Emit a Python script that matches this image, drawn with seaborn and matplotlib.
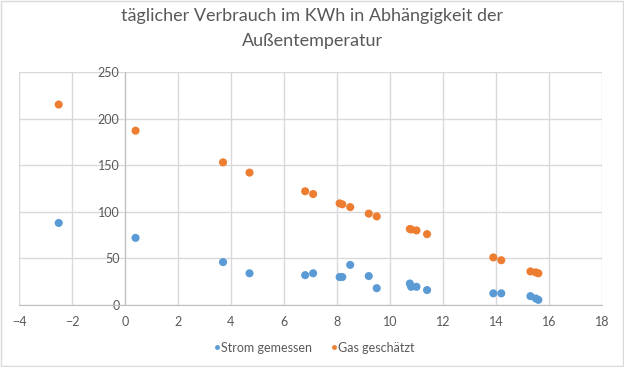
import pandas as pd
import seaborn as sns
import matplotlib.pyplot as plt
from matplotlib.patches import Rectangle

# Aussentemperatur (°C) und täglicher Verbrauch (kWh)
temperatur = [-2.5, 0.4, 3.7, 4.7, 6.8, 7.1, 8.1, 8.2, 8.5, 9.2, 9.5,
              10.75, 10.8, 11.0, 11.4, 13.9, 14.2, 15.3, 15.5, 15.6]
strom = [88, 72, 46, 34, 32, 34, 30, 30, 43, 31, 18,
         23, 19.5, 19.5, 16, 12.5, 12.5, 9.5, 7, 5.5]
gas = [215, 187, 153, 142, 122, 119, 109, 108, 105, 98, 95,
       81.5, 81, 80, 76, 51, 48, 36, 35, 34]

x_ticks = list(range(-4, 19, 2))
y_ticks = [0, 50, 100, 150, 200, 250]

df = pd.concat([
    pd.DataFrame({"temp": temperatur, "kwh": strom, "serie": "Strom gemessen"}),
    pd.DataFrame({"temp": temperatur, "kwh": gas, "serie": "Gas geschätzt"}),
])

colors = {"Strom gemessen": "#5B9BD5", "Gas geschätzt": "#ED7D31"}
text_col = "#595959"
grid_col = "#D9D9D9"

sns.set_style("white")
plt.rcParams["font.family"] = ["Lato", "DejaVu Sans"]

fig = plt.figure(figsize=(6.24, 3.67), dpi=100)
ax = fig.add_axes([0.0304, 0.169, 0.9343, 0.635])

sns.scatterplot(
    data=df, x="temp", y="kwh", hue="serie", palette=colors,
    s=34, edgecolor="none", ax=ax, legend=True, zorder=3
)

ax.set_xlim(-4, 18)
ax.set_ylim(0, 250)
ax.set_xticks(x_ticks)
ax.set_yticks(y_ticks)
ax.grid(True, color=grid_col, linewidth=1)
ax.set_axisbelow(True)
ax.set_xlabel("")
ax.set_ylabel("")

# y-Achse schneidet bei x=0 (wie in Excel)
for s in ["top", "right"]:
    ax.spines[s].set_visible(False)
ax.spines["left"].set_position(("data", 0))
ax.spines["left"].set_color("#BFBFBF")
ax.spines["bottom"].set_color("#BFBFBF")
ax.tick_params(axis="both", length=0, labelsize=9, colors=text_col)
ax.tick_params(axis="y", pad=4)
ax.tick_params(axis="x", pad=8)

ax.get_legend().remove()
handles, labels = ax.get_legend_handles_labels()
fig.legend(handles, labels, loc="center", bbox_to_anchor=(0.5, 0.053),
           ncol=2, frameon=False, fontsize=9, handletextpad=-0.3,
           handlelength=1.2, columnspacing=1.2, markerscale=0.6,
           labelcolor=text_col)

fig.suptitle("täglicher Verbrauch im KWh in Abhängigkeit der\nAußentemperatur",
             y=0.978, fontsize=13, color=text_col, linespacing=1.7)

fig.patches.append(Rectangle((0.0015, 0.0025), 0.997, 0.995, transform=fig.transFigure,
                             fill=False, edgecolor=grid_col, linewidth=1))

plt.savefig("out.png", dpi=100)
plt.close()
